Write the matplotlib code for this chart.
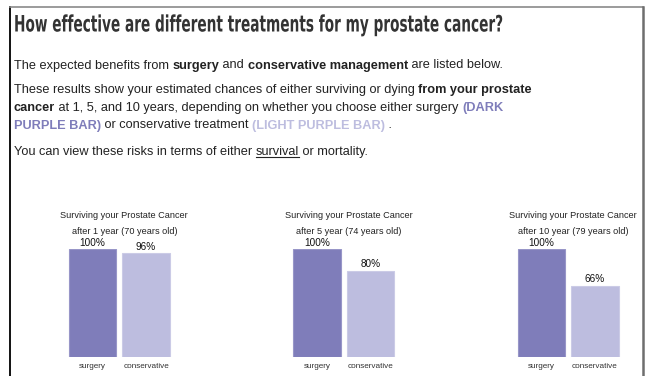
import matplotlib
matplotlib.use("Agg")
import matplotlib.pyplot as plt
from matplotlib.lines import Line2D
from matplotlib.patheffects import AbstractPathEffect
from matplotlib.transforms import Affine2D

# ---- data ----
panel_titles = [
    ("Surviving your Prostate Cancer", "after 1 year (70 years old)"),
    ("Surviving your Prostate Cancer", "after 5 year (74 years old)"),
    ("Surviving your Prostate Cancer", "after 10 year (79 years old)"),
]
treatments = ["surgery", "conservative"]
surgery_pct = [100, 100, 100]
conservative_pct = [96, 80, 66]

W, H = 647, 376
DPI = 100
DARK = "#7f7dba"
LIGHT = "#bdbddf"
TXT = "#222222"

fig = plt.figure(figsize=(W / DPI, H / DPI), dpi=DPI)
fig.patch.set_facecolor("white")

page = fig.add_axes([0, 0, 1, 1])
page.set_xlim(0, W)
page.set_ylim(H, 0)
page.axis("off")

renderer = fig.canvas.get_renderer()


def px(sz):
    return sz * 72 / DPI


class TallGlyphs(AbstractPathEffect):
    """Stretch glyphs vertically about a baseline (display coords)."""

    def __init__(self, sy, base_y):
        super().__init__()
        self.sy = sy
        self.base_y = base_y

    def draw_path(self, renderer, gc, tpath, affine, rgbFace=None):
        stretch = Affine2D().translate(0, -self.base_y).scale(1, self.sy).translate(0, self.base_y)
        renderer.draw_path(gc, tpath, affine + stretch, rgbFace)


def text_width(s, **kw):
    t = page.text(0, 0, "x" + s + "x", **kw)
    t2 = page.text(0, 0, "xx", **kw)
    w = t.get_window_extent(renderer).width - t2.get_window_extent(renderer).width
    t.remove()
    t2.remove()
    return w


def draw_runs(x, y, parts, size, family="Liberation Sans"):
    """Lay out a line made of styled chunks, left to right."""
    for s, weight, color, underline in parts:
        kw = dict(fontsize=px(size), fontweight=weight, family=family)
        page.text(x, y, s, color=color, va="baseline", ha="left", **kw)
        w = text_width(s, **kw)
        if underline:
            page.add_line(Line2D([x, x + w], [y + 2, y + 2], color=color, lw=0.8))
        x += w


# frame
page.add_line(Line2D([10, 10], [7, H], color="#111111", lw=1.4))
page.add_line(Line2D([10, 643], [7, 7], color="#8a8a8a", lw=1.2))
page.add_line(Line2D([643, 643], [7, H], color="#6e6e6e", lw=1.8))

# heading: condensed look made by a tall stretch of a bold sans
heading = "How effective are different treatments for my prostate cancer?"
head_kw = dict(family="DejaVu Sans", fontweight="bold")
w0 = text_width(heading, fontsize=px(20), **head_kw)
head_px = 20 * 490 / w0
cap_px = 0.73 * head_px
head_base = 31.5
page.text(14, head_base, heading, fontsize=px(head_px), color="#333333",
          va="baseline", ha="left", **head_kw,
          path_effects=[TallGlyphs(16.5 / cap_px, H - head_base)])

BODY = 12.8
N, B = "normal", "bold"
draw_runs(14, 68.5, [("The expected benefits from ", N, TXT, False),
                     ("surgery", B, TXT, False),
                     (" and ", N, TXT, False),
                     ("conservative management", B, TXT, False),
                     (" are listed below.", N, TXT, False)], BODY)
draw_runs(14, 93.5, [("These results show your estimated chances of either surviving or dying ", N, TXT, False),
                     ("from your prostate", B, TXT, False)], BODY)
draw_runs(14, 111, [("cancer", B, TXT, False),
                    (" at 1, 5, and 10 years, depending on whether you choose either surgery ", N, TXT, False),
                    ("(DARK", B, "#7f7dba", False)], BODY)
draw_runs(14, 128.5, [("PURPLE BAR)", B, "#7f7dba", False),
                      (" or conservative treatment ", N, TXT, False),
                      ("(LIGHT PURPLE BAR)", B, "#bdbddf", False),
                      (" .", N, TXT, False)], BODY)
draw_runs(14, 155, [("You can view these risks in terms of either ", N, TXT, False),
                    ("survival", N, TXT, True),
                    (" or mortality.", N, TXT, False)], BODY)

# bar panels
panel_left = [65.75, 290.25, 514.75]
unit = 53.5
bar_bottom, bar_top = 357, 249
for i in range(3):
    left = panel_left[i] / W
    ax = fig.add_axes([left, (H - bar_bottom) / H, 2 * unit / W, (bar_bottom - bar_top) / H])
    ax.set_xlim(-0.5, 1.5)
    ax.set_ylim(0, 100)
    ax.axis("off")
    vals = [surgery_pct[i], conservative_pct[i]]
    ax.bar([0, 1], vals, width=0.88, color=[DARK, LIGHT],
           edgecolor=["#9896c8", "#cbcbe6"], linewidth=0.8)
    for xpos, v in zip([0, 1], vals):
        ax.annotate(f"{v}%", (xpos, v), xytext=(0, 1), textcoords="offset points",
                    ha="center", va="bottom", fontsize=px(10), family="Liberation Sans",
                    color="#111111")
    for xpos, name in zip([0, 1], treatments):
        ax.annotate(name, (xpos, 0), xytext=(0, -7), textcoords="offset points",
                    ha="center", va="center", fontsize=px(8.2), family="Liberation Sans",
                    color="#333333")
    cx = panel_left[i] + unit + 5
    page.text(cx, 216, panel_titles[i][0], ha="center", va="center",
              fontsize=px(9.1), family="Liberation Sans", color="#222222")
    page.text(cx, 231, panel_titles[i][1], ha="center", va="center",
              fontsize=px(9.1), family="Liberation Sans", color="#222222")

fig.savefig("out.png", dpi=DPI, facecolor="white")
